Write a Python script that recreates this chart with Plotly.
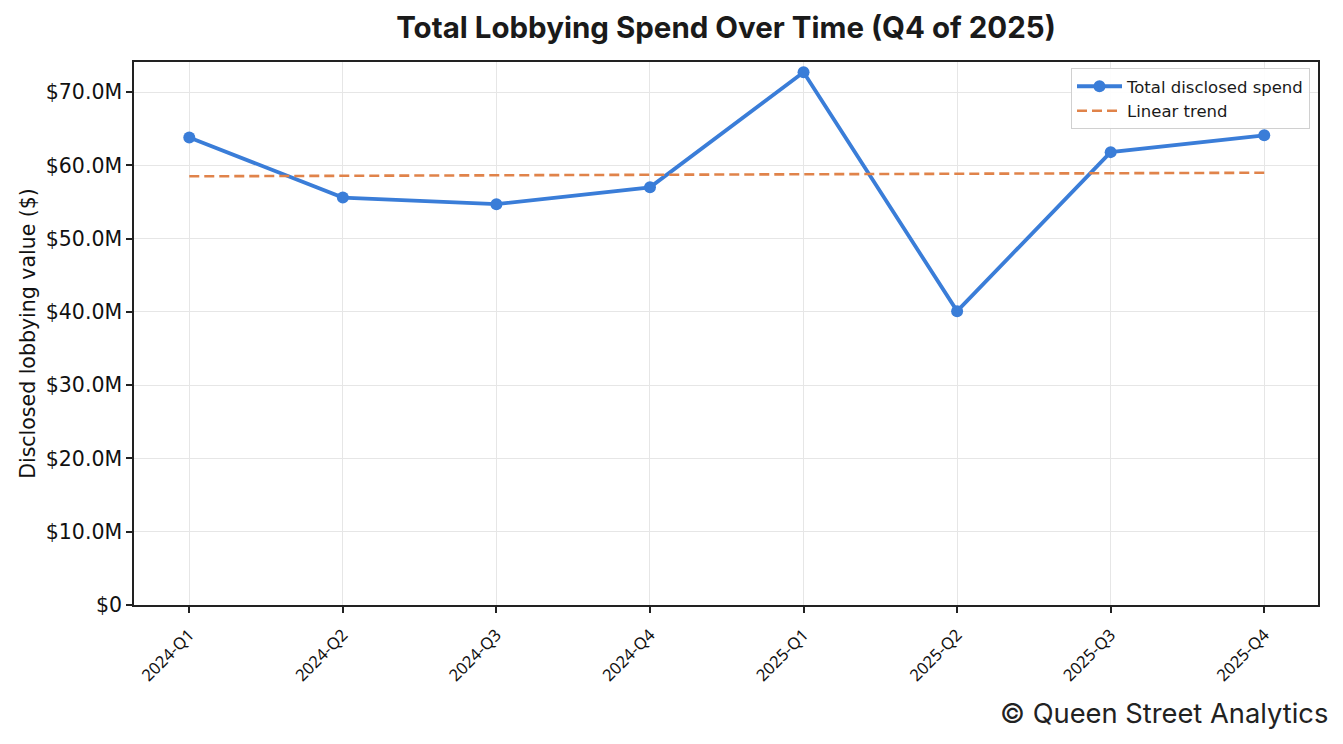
import plotly.graph_objects as go

quarters = ["2024-Q1", "2024-Q2", "2024-Q3", "2024-Q4", "2025-Q1", "2025-Q2", "2025-Q3", "2025-Q4"]
spend = [63.8e6, 55.6e6, 54.7e6, 57.0e6, 72.7e6, 40.1e6, 61.8e6, 64.1e6]
trend = [58.5e6, 58.57e6, 58.64e6, 58.71e6, 58.78e6, 58.85e6, 58.92e6, 58.99e6]
ytick_vals = [0, 10e6, 20e6, 30e6, 40e6, 50e6, 60e6, 70e6]
ytick_text = ["$0", "$10.0M", "$20.0M", "$30.0M", "$40.0M", "$50.0M", "$60.0M", "$70.0M"]

xi = list(range(len(quarters)))

W, H = 1343, 744
L, R, T, B = 134, 1318, 62, 605  # plot area in pixels

fig = go.Figure()
fig.add_trace(go.Scatter(
    x=xi, y=spend, mode="lines+markers", name="Total disclosed spend",
    line=dict(color="#3a7dd8", width=3.8),
    marker=dict(size=12, color="#3a7dd8"),
))
fig.add_trace(go.Scatter(
    x=xi, y=trend, mode="lines", name="Linear trend",
    line=dict(color="#e0834a", width=2.6, dash="10px,5px"),
))

fig.update_layout(
    width=W, height=H,
    margin=dict(l=L, r=W - R, t=T, b=H - B),
    paper_bgcolor="white", plot_bgcolor="white",
    title=dict(text="<b>Total Lobbying Spend Over Time (Q4 of 2025)</b>",
               x=(L + R) / 2 / W, xanchor="center", y=1 - 28 / H, yanchor="middle",
               font=dict(family="Inter", size=29.5, color="#1a1a1a")),
    showlegend=True,
    legend=dict(x=(1310 - L) / (R - L), xanchor="right", y=(B - 68) / (B - T), yanchor="top",
                bgcolor="rgba(255,255,255,0.9)", bordercolor="#d0d0d0", borderwidth=1,
                font=dict(family="DejaVu Sans", size=16.5, color="#1a1a1a"),
                tracegroupgap=0, itemwidth=45),
    font=dict(family="DejaVu Sans", color="#111"),
)

fig.update_xaxes(
    tickmode="array", tickvals=xi, ticktext=quarters, tickangle=-45,
    range=[-0.36, 7.35],
    showgrid=True, gridcolor="#e6e6e6", gridwidth=1,
    showline=True, linecolor="#222", linewidth=1.5, mirror=True,
    ticks="outside", ticklen=6, tickcolor="#222", tickwidth=1.5,
    tickfont=dict(family="Noto Sans", size=16.5, color="#111"),
    ticklabelstandoff=6,
    zeroline=False,
)
fig.update_yaxes(
    tickmode="array", tickvals=ytick_vals, ticktext=ytick_text,
    range=[0, 74.1e6],
    showgrid=True, gridcolor="#e6e6e6", gridwidth=1,
    showline=True, linecolor="#222", linewidth=1.5, mirror=True,
    ticks="outside", ticklen=6, tickcolor="#222", tickwidth=1.5,
    tickfont=dict(family="DejaVu Sans", size=20.5, color="#111"),
    title=dict(text="Disclosed lobbying value ($)", font=dict(family="DejaVu Sans", size=20.5, color="#111"),
               standoff=5),
    zeroline=False,
)

fig.add_annotation(
    text="© Queen Street Analytics", xref="paper", yref="paper",
    x=(1330 - L) / (R - L), xanchor="right", y=-(713 - B) / (B - T), yanchor="middle",
    showarrow=False, font=dict(family="Inter", size=27.3, color="#222"),
)

fig.write_html("out.html", config={"displayModeBar": False},
               post_script="document.body.style.margin='0';document.body.style.padding='0';")
